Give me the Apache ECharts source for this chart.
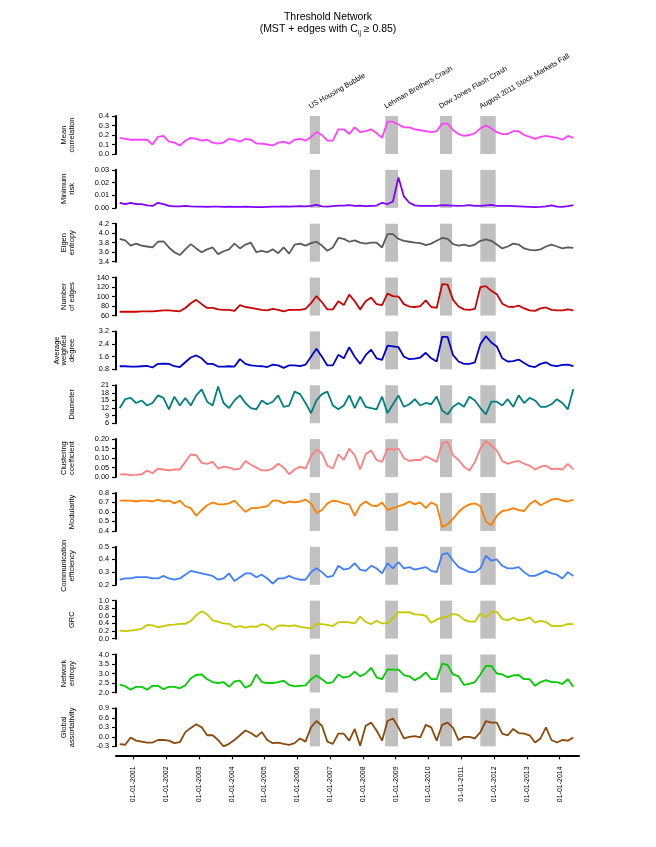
<!DOCTYPE html>
<html><head><meta charset="utf-8">
<script src="https://cdn.jsdelivr.net/npm/echarts@6/dist/echarts.min.js"></script>
<style>html,body{margin:0;padding:0;background:#fff}#c{width:656px;height:847px}</style>
</head><body><div id="c"></div>
<script>
// bimonthly sampling dates (YYYY-MM)
const dates = [
 '2000-08','2000-10','2000-12',
 '2001-02','2001-04','2001-06','2001-08','2001-10','2001-12',
 '2002-02','2002-04','2002-06','2002-08','2002-10','2002-12',
 '2003-02','2003-04','2003-06','2003-08','2003-10','2003-12',
 '2004-02','2004-04','2004-06','2004-08','2004-10','2004-12',
 '2005-02','2005-04','2005-06','2005-08','2005-10','2005-12',
 '2006-02','2006-04','2006-06','2006-08','2006-10','2006-12',
 '2007-02','2007-04','2007-06','2007-08','2007-10','2007-12',
 '2008-02','2008-04','2008-06','2008-08','2008-10','2008-12',
 '2009-02','2009-04','2009-06','2009-08','2009-10','2009-12',
 '2010-02','2010-04','2010-06','2010-08','2010-10','2010-12',
 '2011-02','2011-04','2011-06','2011-08','2011-10','2011-12',
 '2012-02','2012-04','2012-06','2012-08','2012-10','2012-12',
 '2013-02','2013-04','2013-06','2013-08','2013-10','2013-12',
 '2014-02','2014-04','2014-06'
];
const meanCorr = [0.17,0.16,0.15,0.15,0.15,0.15,0.10,0.18,0.19,0.13,
 0.12,0.09,0.14,0.17,0.16,0.14,0.15,0.12,0.11,0.12,
 0.16,0.15,0.13,0.16,0.15,0.11,0.11,0.10,0.09,0.12,
 0.13,0.11,0.15,0.16,0.14,0.18,0.23,0.20,0.14,0.14,
 0.26,0.26,0.21,0.28,0.23,0.24,0.26,0.22,0.17,0.34,
 0.34,0.31,0.28,0.28,0.26,0.25,0.24,0.23,0.24,0.32,
 0.32,0.25,0.21,0.19,0.20,0.22,0.27,0.30,0.27,0.23,
 0.21,0.21,0.24,0.24,0.20,0.18,0.16,0.18,0.19,0.18,
 0.17,0.15,0.19,0.17];
const minRisk = [0.004,0.003,0.004,0.003,0.003,0.002,0.0015,0.004,0.003,0.0015,
 0.0012,0.0012,0.0015,0.0012,0.0010,0.0010,0.0008,0.0010,0.0010,0.0008,
 0.0010,0.0008,0.0008,0.0010,0.0008,0.0006,0.0006,0.0008,0.0010,0.0010,
 0.0012,0.0010,0.0012,0.0014,0.0012,0.0016,0.0024,0.0012,0.0010,0.0014,
 0.0018,0.0018,0.0022,0.0016,0.0018,0.0014,0.0016,0.0018,0.0040,0.0030,
 0.0050,0.0240,0.0090,0.0040,0.0020,0.0015,0.0015,0.0016,0.0016,0.0022,
 0.0020,0.0018,0.0015,0.0018,0.0022,0.0015,0.0016,0.0020,0.0024,0.0016,
 0.0015,0.0015,0.0014,0.0012,0.0010,0.0008,0.0006,0.0008,0.0012,0.0020,
 0.0010,0.0008,0.0014,0.0022];
const eigenEntropy = [3.88,3.85,3.74,3.78,3.74,3.72,3.70,3.82,3.83,3.70,
 3.60,3.54,3.66,3.77,3.68,3.60,3.66,3.70,3.56,3.62,
 3.66,3.78,3.68,3.76,3.80,3.60,3.63,3.60,3.66,3.58,
 3.70,3.57,3.76,3.78,3.74,3.79,3.82,3.74,3.63,3.70,
 3.90,3.88,3.82,3.85,3.80,3.78,3.80,3.80,3.70,3.98,
 3.98,3.88,3.84,3.82,3.80,3.79,3.75,3.78,3.84,3.90,
 3.88,3.77,3.74,3.76,3.73,3.76,3.84,3.87,3.84,3.76,
 3.68,3.72,3.78,3.76,3.68,3.65,3.64,3.66,3.72,3.76,
 3.72,3.68,3.70,3.69];
const numEdges = [68,68,68,68,69,69,69,70,71,71,
 70,69,76,86,93,84,76,76,73,72,
 72,70,82,78,76,74,72,71,74,72,
 69,72,72,72,74,86,101,88,73,73,
 90,82,104,90,73,90,98,84,82,106,
 101,100,84,79,78,80,92,78,76,126,
 125,93,79,73,72,74,120,122,112,105,
 85,79,78,81,75,71,70,75,77,72,
 71,71,73,71];
const avgWDegree = [1.0,1.0,0.97,0.98,1.0,1.02,0.92,1.15,1.17,1.15,
 1.0,0.95,1.25,1.55,1.68,1.5,1.15,1.15,0.98,0.97,
 1.0,0.98,1.45,1.15,1.05,1.02,1.0,0.95,1.1,1.05,
 0.9,1.05,1.05,1.0,1.1,1.6,2.1,1.6,1.05,1.05,
 1.72,1.5,2.2,1.6,1.15,1.7,2.05,1.5,1.4,2.3,
 2.25,2.2,1.6,1.45,1.48,1.55,1.85,1.5,1.3,2.85,
 2.85,1.7,1.3,1.15,1.15,1.25,2.4,2.9,2.5,2.25,
 1.5,1.3,1.32,1.42,1.2,1.0,0.95,1.15,1.25,1.05,
 1.0,1.08,1.1,1.0];
const diameter = [12,15.5,16,14,15,13,14,17,16,11.5,
 16.5,13,16,13,17,19.4,14.5,13,20.5,14,
 12,15,17,14,12,11.5,15,13.5,14.5,17,
 12.5,13,18.5,17.5,14,10,15,17.5,18.5,13,
 11.5,13,17,12,16.5,12.5,12,11.5,16.5,10,
 13.5,17,12.5,13.5,15.5,13,14,13.5,16.5,11,
 9.5,12.5,14,12.5,16.5,15,12,9.5,14.5,14.5,
 13,15.5,12.5,17,14,16,15,12.5,12.5,13.5,
 15.5,14,11.5,19.5];
const clustering = [0.014,0.015,0.010,0.012,0.015,0.035,0.020,0.045,0.040,0.035,
 0.040,0.040,0.080,0.120,0.115,0.075,0.070,0.080,0.045,0.055,
 0.050,0.040,0.045,0.085,0.065,0.050,0.035,0.035,0.045,0.070,
 0.050,0.015,0.040,0.055,0.045,0.110,0.145,0.125,0.060,0.045,
 0.120,0.090,0.150,0.115,0.040,0.120,0.140,0.090,0.080,0.150,
 0.145,0.150,0.100,0.085,0.090,0.090,0.110,0.095,0.080,0.180,
 0.185,0.115,0.090,0.055,0.035,0.080,0.150,0.190,0.165,0.140,
 0.085,0.070,0.080,0.085,0.070,0.060,0.040,0.055,0.060,0.042,
 0.045,0.040,0.070,0.040];
const modularity = [0.72,0.72,0.72,0.71,0.72,0.72,0.71,0.73,0.71,0.72,
 0.69,0.72,0.66,0.64,0.56,0.62,0.67,0.70,0.68,0.68,
 0.69,0.72,0.66,0.60,0.64,0.64,0.65,0.66,0.72,0.72,
 0.69,0.71,0.70,0.71,0.73,0.69,0.59,0.62,0.69,0.72,
 0.71,0.69,0.68,0.56,0.67,0.71,0.67,0.66,0.70,0.62,
 0.64,0.66,0.68,0.71,0.68,0.70,0.64,0.70,0.67,0.44,
 0.47,0.53,0.60,0.65,0.68,0.69,0.66,0.50,0.46,0.56,
 0.61,0.62,0.64,0.62,0.61,0.68,0.72,0.67,0.70,0.73,
 0.74,0.72,0.71,0.73];
const commEff = [0.24,0.25,0.25,0.26,0.26,0.26,0.25,0.25,0.27,0.25,
 0.24,0.25,0.28,0.31,0.30,0.29,0.28,0.27,0.24,0.25,
 0.29,0.23,0.26,0.29,0.29,0.26,0.28,0.25,0.21,0.25,
 0.25,0.27,0.25,0.24,0.24,0.30,0.33,0.30,0.26,0.27,
 0.35,0.32,0.33,0.37,0.32,0.31,0.35,0.33,0.29,0.37,
 0.33,0.38,0.33,0.34,0.32,0.33,0.34,0.31,0.30,0.44,
 0.45,0.39,0.34,0.32,0.30,0.30,0.33,0.43,0.39,0.40,
 0.35,0.33,0.33,0.34,0.30,0.27,0.27,0.29,0.31,0.29,
 0.28,0.25,0.30,0.27];
const grc = [0.21,0.20,0.21,0.23,0.26,0.36,0.35,0.30,0.33,0.36,
 0.37,0.39,0.39,0.46,0.62,0.72,0.64,0.48,0.45,0.40,
 0.39,0.30,0.33,0.29,0.32,0.31,0.38,0.35,0.23,0.34,
 0.35,0.33,0.35,0.31,0.29,0.27,0.39,0.38,0.36,0.33,
 0.43,0.44,0.43,0.40,0.58,0.44,0.38,0.47,0.40,0.40,
 0.54,0.70,0.69,0.70,0.64,0.63,0.60,0.42,0.50,0.56,
 0.58,0.65,0.62,0.50,0.45,0.45,0.66,0.56,0.70,0.71,
 0.52,0.48,0.55,0.48,0.50,0.56,0.42,0.47,0.44,0.34,
 0.33,0.34,0.39,0.38];
const netEntropy = [2.41,2.33,2.15,2.30,2.30,2.15,2.35,2.35,2.17,2.30,
 2.30,2.22,2.38,2.75,2.92,2.95,2.70,2.55,2.50,2.55,
 2.30,2.58,2.62,2.25,2.40,2.95,2.55,2.50,2.50,2.55,
 2.62,2.40,2.32,2.35,2.38,2.70,2.90,2.70,2.48,2.55,
 2.95,2.78,2.85,3.10,2.85,3.00,3.30,2.80,2.70,3.22,
 3.20,3.20,2.92,2.85,2.65,2.80,3.05,2.70,2.70,3.52,
 3.45,2.95,2.85,2.40,2.45,2.55,2.95,3.40,3.40,3.00,
 2.95,2.80,2.90,2.92,2.70,2.70,2.35,2.55,2.65,2.55,
 2.55,2.45,2.70,2.30];
const assortativity = [-0.23,-0.25,-0.02,-0.12,-0.15,-0.18,-0.18,-0.10,-0.10,-0.12,
 -0.20,-0.17,0.15,0.28,0.40,0.30,0.05,0.05,-0.10,-0.30,
 -0.22,-0.10,0.05,0.20,0.12,0.00,0.15,-0.10,-0.20,-0.18,
 -0.22,-0.25,-0.20,-0.05,-0.15,0.30,0.50,0.35,-0.15,-0.22,
 0.10,0.10,-0.12,0.25,-0.28,0.35,0.45,0.20,-0.12,0.50,
 0.58,0.30,-0.05,0.00,0.02,-0.02,0.38,0.30,-0.12,0.38,
 0.45,0.28,-0.10,0.00,0.00,-0.05,0.15,0.50,0.45,0.45,
 0.10,0.05,0.25,0.12,0.10,0.05,-0.18,-0.05,0.30,-0.10,
 -0.18,-0.10,-0.12,-0.02];

const eventNames = ['US Housing Bubble','Lehman Brothers Crash','Dow Jones Flash Crash','August 2011 Stock Markets Fall'];
const eventStart = [2006.38, 2008.68, 2010.35, 2011.58];
const eventEnd   = [2006.69, 2009.07, 2010.72, 2012.05];
const tickYears = [2001,2002,2003,2004,2005,2006,2007,2008,2009,2010,2011,2012,2013,2014];
const xMin = 2000.47, xMax = 2014.59;

const panels = [
 {label:'Mean\ncorrelation', data:meanCorr, color:'#ff40ff', min:0, max:0.4, step:0.1, dec:1},
 {label:'Minimum\nrisk', data:minRisk, color:'#7f00ff', min:0, max:0.03, step:0.01, dec:2},
 {label:'Eigen\nentropy', data:eigenEntropy, color:'#5a5a5a', min:3.4, max:4.2, step:0.2, dec:1},
 {label:'Number\nof edges', data:numEdges, color:'#cc0000', min:60, max:140, step:20, dec:0},
 {label:'Average\nweighted\ndegree', data:avgWDegree, color:'#0000cc', min:0.8, max:3.2, step:0.8, dec:1},
 {label:'Diameter', data:diameter, color:'#008080', min:6, max:21, step:3, dec:0},
 {label:'Clustering\ncoefficient', data:clustering, color:'#ff7f7f', min:0, max:0.2, step:0.05, dec:2},
 {label:'Modularity', data:modularity, color:'#ff7f00', min:0.4, max:0.8, step:0.1, dec:1},
 {label:'Communication\nefficiency', data:commEff, color:'#3f7fff', min:0.2, max:0.5, step:0.1, dec:1},
 {label:'GRC', data:grc, color:'#c8c800', min:0, max:1.0, step:0.2, dec:1},
 {label:'Network\nentropy', data:netEntropy, color:'#00cc00', min:2.0, max:4.0, step:0.5, dec:1},
 {label:'Global\nassortativity', data:assortativity, color:'#8b4a0c', min:-0.3, max:0.9, step:0.3, dec:1}
];

const FONT = '"Liberation Sans", Arial, Helvetica, sans-serif';
const xs = dates.map(d => { const p = d.split('-'); return +p[0] + (+p[1] - 1) / 12; });

const grids = [], xAxes = [], yAxes = [], series = [];
const last = panels.length - 1;
panels.forEach((p, i) => {
  grids.push({left: 116, right: 77, top: 116 + 53.85 * i, height: 38});
  xAxes.push({
    type: 'value', gridIndex: i, min: xMin, max: xMax, show: i === last,
    offset: 9, position: 'bottom',
    axisLine: {show: true, onZero: false, lineStyle: {color: '#000', width: 2}},
    axisTick: {show: true, customValues: tickYears, length: 4, lineStyle: {color: '#000', width: 1.2}},
    axisLabel: {show: true, customValues: tickYears, rotate: 90, fontSize: 7, color: '#000', margin: 11,
      fontFamily: FONT, formatter: v => '01-01-' + Math.round(v)},
    splitLine: {show: false}
  });
  yAxes.push({
    type: 'value', gridIndex: i, min: p.min, max: p.max, interval: p.step,
    name: p.label, nameLocation: 'middle', nameRotate: 90, nameGap: 40,
    nameTextStyle: {fontSize: 7.5, lineHeight: 7.8, color: '#000', fontFamily: FONT},
    axisLine: {show: true, onZero: false, lineStyle: {color: '#000', width: 2}},
    axisTick: {show: true, length: 4, lineStyle: {color: '#000', width: 1.2}},
    axisLabel: {fontSize: 7.3, lineHeight: 5, color: '#000', margin: 7, fontFamily: FONT,
      interval: 0, showMinLabel: true, showMaxLabel: true, hideOverlap: false,
      formatter: v => Number(v).toFixed(p.dec)},
    splitLine: {show: false}
  });
  series.push({
    type: 'line', xAxisIndex: i, yAxisIndex: i, z: 3,
    data: xs.map((x, k) => [x, p.data[k]]),
    showSymbol: false, symbol: 'none', animation: false,
    lineStyle: {color: p.color, width: 1.8}, itemStyle: {color: p.color},
    markArea: {silent: true, itemStyle: {color: '#c0c0c0', opacity: 1}, z: 1,
      data: eventStart.map((s, k) => [{xAxis: s}, {xAxis: eventEnd[k]}])}
  });
});

const chart = echarts.init(document.getElementById('c'), null, {renderer: 'canvas'});
chart.setOption({
  animation: false,
  backgroundColor: '#fff',
  grid: grids, xAxis: xAxes, yAxis: yAxes, series: series
});

const gfx = [
  {type: 'text', left: 'center', top: 12,
   style: {text: 'Threshold Network', font: '10.5px ' + FONT, fill: '#000'}},
  {type: 'text', left: 'center', top: 24,
   style: {text: '{n|(MST + edges with C}{s|ij}{n| ≥ 0.85)}', fill: '#000',
     rich: {n: {fontSize: 10.5, fontFamily: FONT, lineHeight: 15, verticalAlign: 'middle'},
            s: {fontSize: 6.5, fontFamily: FONT, lineHeight: 7, verticalAlign: 'bottom'}}}}
];
eventNames.forEach((name, k) => {
  const pt = chart.convertToPixel({xAxisIndex: 0, yAxisIndex: 0}, [eventStart[k], panels[0].max]);
  gfx.push({type: 'text', x: pt[0] + 1.5, y: pt[1] - 6, rotation: Math.PI / 6,
    style: {text: name, font: '7.3px ' + FONT, fill: '#000', textAlign: 'left', textVerticalAlign: 'bottom'}});
});
chart.setOption({graphic: gfx});
</script>
</body></html>
